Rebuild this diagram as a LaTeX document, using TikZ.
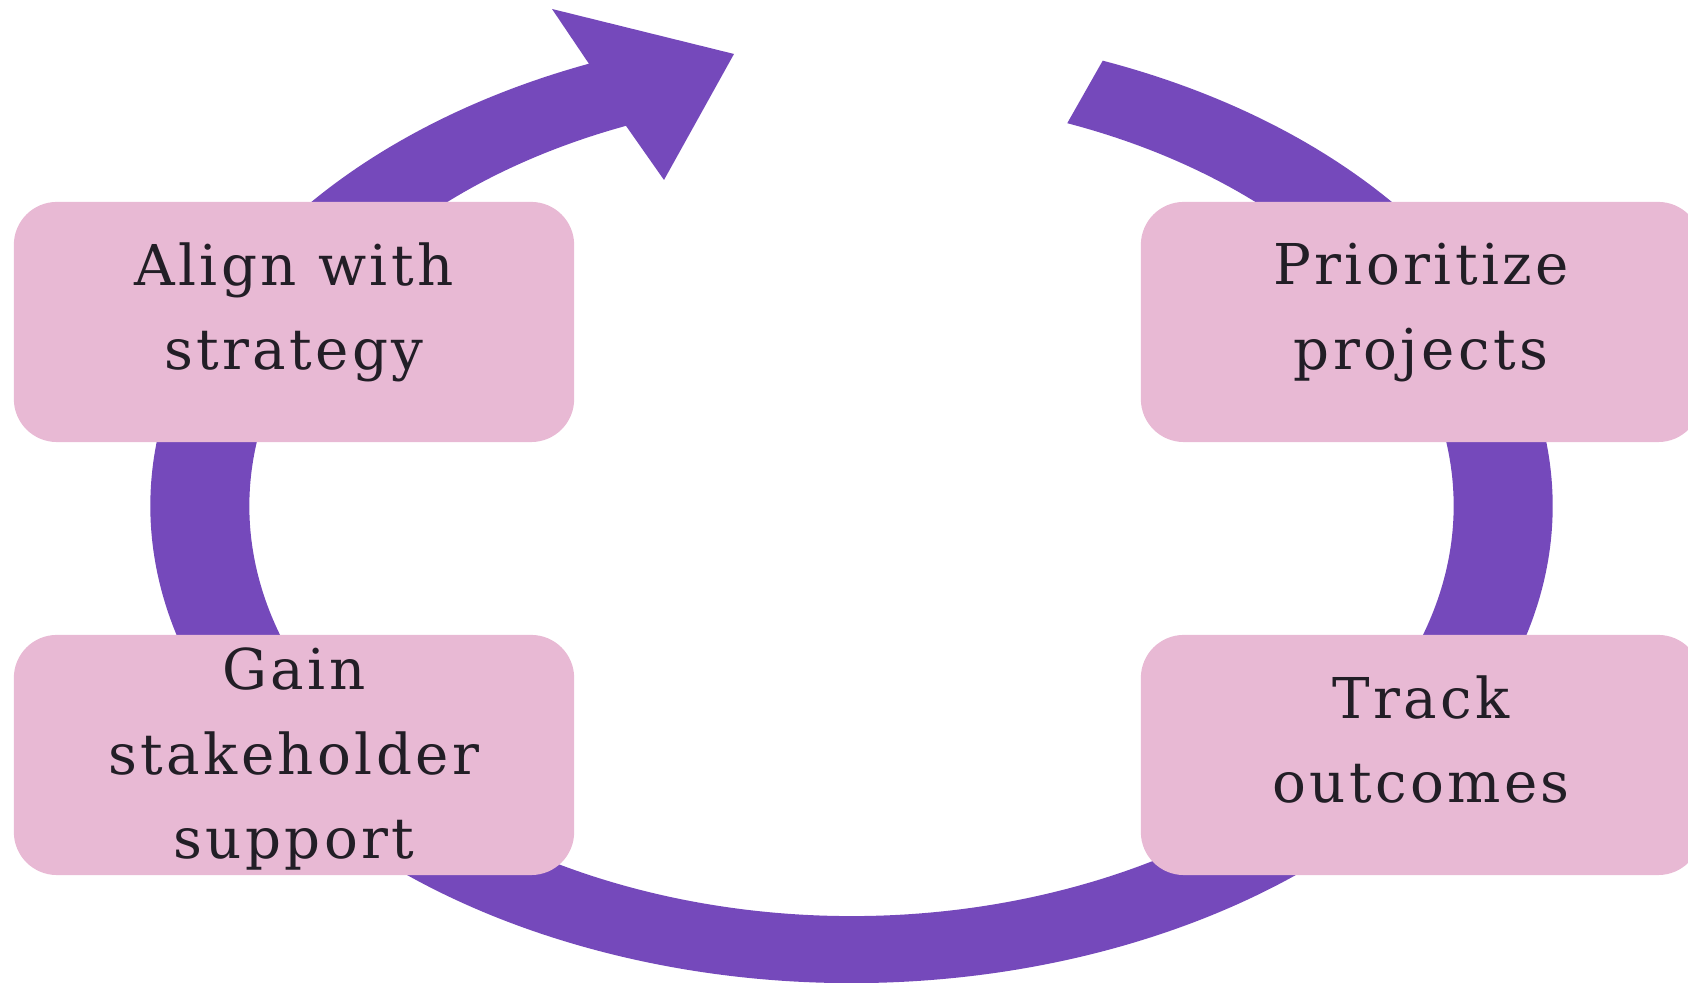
\documentclass[tikz,border=0pt]{standalone}
\usepackage{fontspec}
\setmainfont[LetterSpace=6]{DejaVu Serif}
\usepackage{tikz}
\usetikzlibrary{positioning}
\definecolor{ring}{RGB}{117,73,187}
\definecolor{boxpink}{RGB}{232,185,212}
\definecolor{ink}{RGB}{34,30,38}

\begin{document}
\begin{tikzpicture}[x=0.01cm, y=0.01cm,
  stage/.style={rectangle, rounded corners=0.43cm, fill=boxpink,
    minimum width=5.6cm, minimum height=2.4cm, inner ysep=0pt,
    align=center, text=ink, font=\fontsize{16}{24}\selectfont}]
  \useasboundingbox (0,0) rectangle (1688,983);
  \def\cx{851.5}
  \def\cy{477}
  % the cycle ring, open at the top, with its arrow head
  \fill[ring] ({\cx+701*cos(69)},{\cy+477*sin(69)})
    arc[start angle=69, end angle=-248, x radius=701, y radius=477]
    -- (552,974) -- (734,929) -- (664,803)
    -- ({\cx+602*cos(112)},{\cy+410*sin(112)})
    arc[start angle=112, end angle=429, x radius=602, y radius=410]
    -- cycle;
  % the four steps
  \foreach \nm/\x/\y/\dep/\lab in {align/294/661/9/{Align with\\strategy},
      prior/1421/661/9/{Prioritize\\projects},
      gain/294/228/1/{Gain\\stakeholder\\support},
      track/1421/228/9/{Track\\outcomes}} {
    \node[stage, text depth=\dep pt] (\nm) at (\x,\y) {\lab};
  }
\end{tikzpicture}
\end{document}
